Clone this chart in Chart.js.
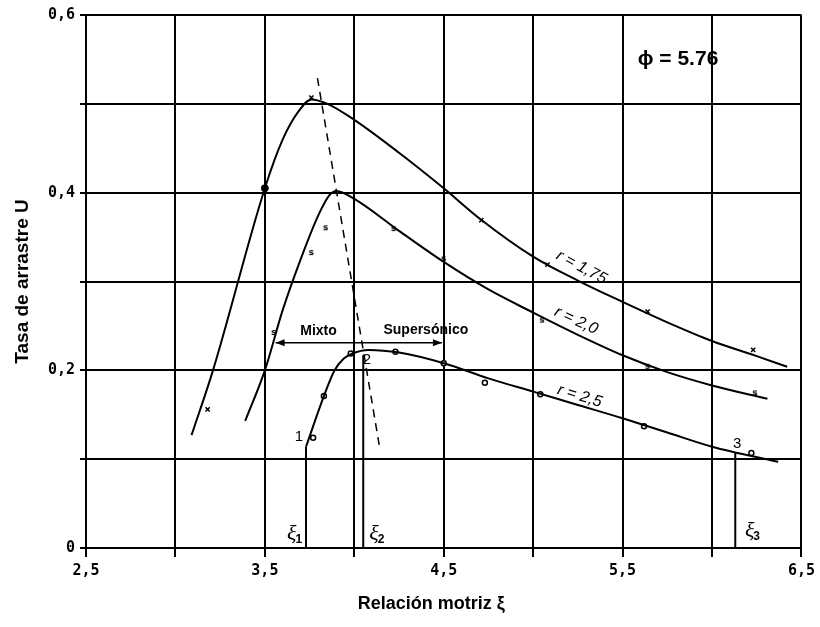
<!DOCTYPE html>
<html>
<head>
<meta charset="utf-8">
<script src="https://cdn.jsdelivr.net/npm/chart.js@4.4.1/dist/chart.umd.min.js"></script>
<style>
  html, body { margin: 0; padding: 0; background: #fff; }
  #wrap { width: 820px; height: 627px; }
</style>
</head>
<body>
<div id="wrap"><canvas id="chart" width="820" height="627"></canvas></div>
<script>
// ---- data ----
const xTickValues = [2.5, 3.5, 4.5, 5.5, 6.5];
const xTickLabels = ['2,5', '3,5', '4,5', '5,5', '6,5'];
const yTickValues = [0, 0.2, 0.4, 0.6];
const yTickLabels = ['0', '0,2', '0,4', '0,6'];

// traced curves (x = relación motriz, y = tasa de arrastre)
const curveR175 = [[3.09,0.127],[3.21,0.2],[3.5,0.405],[3.6,0.46],[3.69,0.492],[3.76,0.505],[3.85,0.5],[4.0,0.482],[4.25,0.445],[4.5,0.405],[4.7,0.371],[5.0,0.328],[5.25,0.301],[5.5,0.277],[5.75,0.254],[6.0,0.233],[6.25,0.216],[6.42,0.204]];
const curveR20  = [[3.39,0.143],[3.5,0.2],[3.6,0.268],[3.7,0.325],[3.8,0.375],[3.86,0.397],[3.9,0.402],[4.0,0.393],[4.25,0.357],[4.5,0.322],[4.75,0.291],[5.0,0.265],[5.25,0.24],[5.5,0.217],[5.75,0.198],[6.0,0.183],[6.31,0.168]];
const curveR25  = [[3.73,0.114],[3.83,0.171],[3.89,0.2],[3.94,0.213],[3.99,0.219],[4.08,0.223],[4.25,0.22],[4.5,0.208],[4.75,0.191],[5.0,0.176],[5.25,0.161],[5.5,0.146],[5.75,0.13],[6.0,0.114],[6.37,0.097]];

// measured points
const pointsR175 = [[3.18,0.156],[3.76,0.507],[4.71,0.369],[5.08,0.319],[5.64,0.266],[6.23,0.223]];
const pointsR20  = [[3.55,0.242],[3.76,0.332],[3.84,0.36],[4.22,0.359],[4.5,0.325],[5.05,0.256],[5.64,0.204],[6.24,0.174]];
const pointsR25  = [[3.77,0.124],[3.83,0.171],[3.98,0.219],[4.23,0.221],[4.5,0.208],[4.73,0.186],[5.04,0.173],[5.62,0.137],[6.22,0.107]];
const solidDot   = [[3.5,0.405]];

// dashed line through the maxima
const maxLine = [[3.794,0.529],[4.14,0.115]];

// xi markers
const xi1 = [[3.73,0],[3.73,0.114]];
const xi2 = [[4.05,0],[4.05,0.217]];
const xi3 = [[6.13,0],[6.13,0.107]];

// regime arrow
const regimeArrow = [[3.56,0.231],[4.49,0.231]];

const toXY = arr => arr.map(p => ({ x: p[0], y: p[1] }));

function glyph(ch) {
  const c = document.createElement('canvas');
  c.width = 10; c.height = 10;
  const g = c.getContext('2d');
  g.font = 'bold 9px "DejaVu Sans"';
  g.textAlign = 'center';
  g.textBaseline = 'middle';
  g.fillStyle = '#000';
  g.fillText(ch, 5, 5);
  return c;
}
const sGlyph = glyph('s');

function curveSet(data) {
  return { type: 'line', data: toXY(data), borderColor: '#000', borderWidth: 2,
           pointRadius: 0, cubicInterpolationMode: 'monotone', fill: false };
}
function straight(data, extra) {
  return Object.assign({ type: 'line', data: toXY(data), borderColor: '#000', borderWidth: 2,
           pointRadius: 0, tension: 0, fill: false }, extra || {});
}

// texts placed in data coordinates
const notes = [
  { t: 'Mixto', x: 3.80, y: 0.244, font: 'bold 14px "Liberation Sans"' },
  { t: 'Supersónico', x: 4.40, y: 0.245, font: 'bold 14px "Liberation Sans"' },
  { t: '1', x: 3.69, y: 0.125, font: '15px "Liberation Sans"' },
  { t: '2', x: 4.07, y: 0.212, font: '15px "Liberation Sans"' },
  { t: '3', x: 6.14, y: 0.117, font: '15px "Liberation Sans"' },
  { t: 'ϕ = 5.76', x: 5.81, y: 0.55, font: 'bold 21px "Liberation Sans"' },
  { t: 'r = 1,75', x: 5.27, y: 0.316, font: 'italic 16px "Liberation Sans"', rot: 28 },
  { t: 'r = 2,0', x: 5.24, y: 0.256, font: 'italic 16px "Liberation Sans"', rot: 25 },
  { t: 'r = 2,5', x: 5.26, y: 0.171, font: 'italic 16px "Liberation Sans"', rot: 17 }
];
const xiLabels = [
  { sub: '1', x: 3.66, y: 0.012 },
  { sub: '2', x: 4.12, y: 0.012 },
  { sub: '3', x: 6.22, y: 0.015 }
];

const annotate = {
  id: 'annotate',
  afterDatasetsDraw(chart) {
    const { ctx, scales: { x, y } } = chart;
    ctx.save();
    ctx.fillStyle = '#000';
    ctx.strokeStyle = '#000';
    ctx.textAlign = 'center';
    ctx.textBaseline = 'middle';
    notes.forEach(n => {
      ctx.save();
      ctx.translate(x.getPixelForValue(n.x), y.getPixelForValue(n.y));
      if (n.rot) ctx.rotate(n.rot * Math.PI / 180);
      ctx.font = n.font;
      ctx.fillText(n.t, 0, 0);
      ctx.restore();
    });
    xiLabels.forEach(l => {
      const px = x.getPixelForValue(l.x), py = y.getPixelForValue(l.y);
      ctx.font = 'italic 22px "Liberation Serif"';
      ctx.textAlign = 'right';
      ctx.fillText('ξ', px + 3, py - 3);
      ctx.font = 'bold 12px "Liberation Sans"';
      ctx.textAlign = 'left';
      ctx.fillText(l.sub, px + 2, py + 2);
    });
    // arrowheads of the regime arrow
    const a0 = regimeArrow[0], a1 = regimeArrow[1];
    const ay = y.getPixelForValue(a0[1]);
    [[x.getPixelForValue(a0[0]), 1], [x.getPixelForValue(a1[0]), -1]].forEach(([ax, d]) => {
      ctx.beginPath();
      ctx.moveTo(ax, ay);
      ctx.lineTo(ax + 9 * d, ay - 3.5);
      ctx.lineTo(ax + 9 * d, ay + 3.5);
      ctx.closePath();
      ctx.fill();
    });
    ctx.restore();
  }
};

new Chart(document.getElementById('chart'), {
  type: 'scatter',
  data: {
    datasets: [
      curveSet(curveR175),
      curveSet(curveR20),
      curveSet(curveR25),
      straight(maxLine, { borderWidth: 1.5, borderDash: [8, 6] }),
      straight(xi1),
      straight(xi2),
      straight(xi3),
      straight(regimeArrow, { borderWidth: 1.5 }),
      { data: toXY(pointsR175), pointStyle: 'crossRot', pointRadius: 3, borderColor: '#000', borderWidth: 1.5 },
      { data: toXY(pointsR20), pointStyle: sGlyph, pointRadius: 4 },
      { data: toXY(pointsR25), pointStyle: 'circle', pointRadius: 2.5, backgroundColor: '#fff', borderColor: '#000', borderWidth: 1.5 },
      { data: toXY(solidDot), pointStyle: 'circle', pointRadius: 3.5, backgroundColor: '#000', borderColor: '#000' }
    ]
  },
  options: {
    responsive: false,
    animation: false,
    devicePixelRatio: 1,
    layout: { padding: { top: 15, right: 14, left: 0, bottom: 0 } },
    plugins: { legend: { display: false }, tooltip: { enabled: false } },
    scales: {
      x: {
        type: 'linear', min: 2.5, max: 6.5,
        afterFit: s => { s.height = 79; },
        ticks: {
          stepSize: 0.5, autoSkip: false, maxRotation: 0, padding: 5, color: '#000',
          font: { family: '"DejaVu Sans Mono"', size: 15, weight: 'bold' },
          callback: v => {
            const i = xTickValues.findIndex(t => Math.abs(t - v) < 1e-6);
            return i < 0 ? '' : xTickLabels[i];
          }
        },
        grid: { color: '#000', lineWidth: 2, tickLength: 9, tickColor: '#000' },
        border: { color: '#000', width: 2 },
        title: { display: true, text: 'Relación motriz ξ     ', color: '#000',
                 font: { family: '"Liberation Sans"', size: 18, weight: 'bold' },
                 padding: { top: 0, bottom: 12 } }
      },
      y: {
        type: 'linear', min: 0, max: 0.6,
        afterFit: s => { s.width = 86; },
        ticks: {
          stepSize: 0.1, autoSkip: false, padding: 5, color: '#000',
          font: { family: '"DejaVu Sans Mono"', size: 15, weight: 'bold' },
          callback: v => {
            const i = yTickValues.findIndex(t => Math.abs(t - v) < 1e-6);
            return i < 0 ? '' : yTickLabels[i];
          }
        },
        grid: { color: '#000', lineWidth: 2, tickLength: 6, tickColor: '#000' },
        border: { color: '#000', width: 2 },
        title: { display: true, text: 'Tasa de arrastre U', color: '#000',
                 font: { family: '"Liberation Sans"', size: 19, weight: 'bold' },
                 padding: { top: 11, bottom: 0 } }
      }
    }
  },
  plugins: [annotate]
});
</script>
</body>
</html>
